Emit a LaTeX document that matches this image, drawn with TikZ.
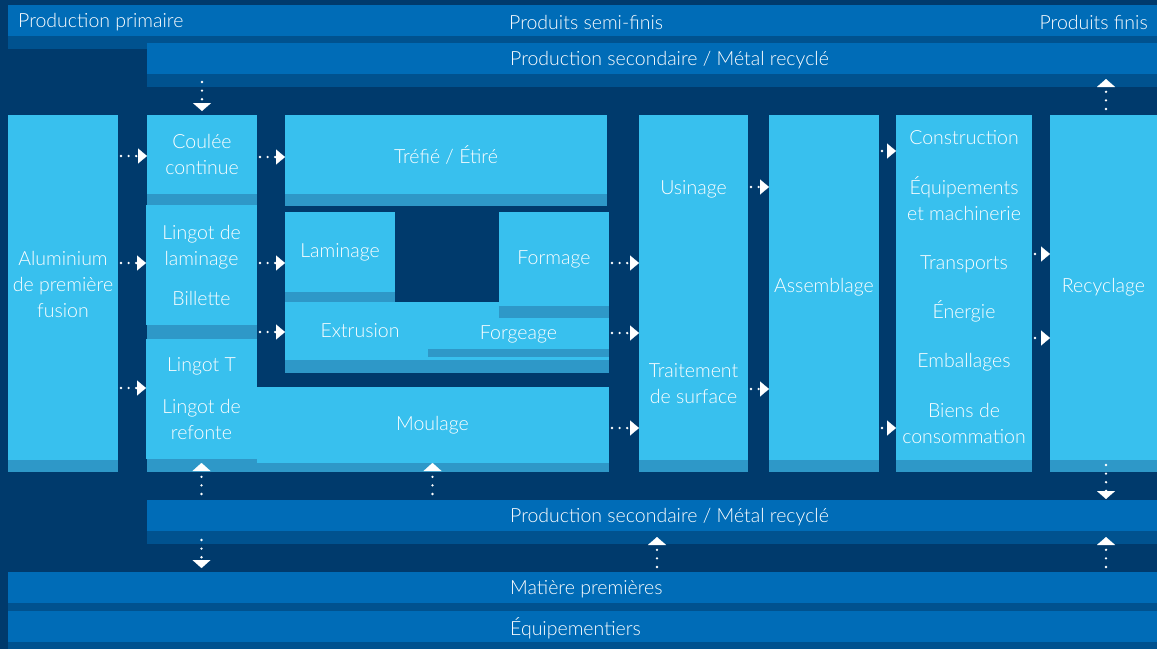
\documentclass[tikz,border=0pt]{standalone}
\usepackage{fontspec}
\setmainfont{Lato}[UprightFont={* Light}]
\usetikzlibrary{arrows.meta}
\definecolor{navy}{HTML}{003A6C}
\definecolor{barblue}{HTML}{006CB7}
\definecolor{barshade}{HTML}{00528F}
\definecolor{boxlight}{HTML}{38C0EE}
\definecolor{boxshade}{HTML}{2E98C8}
\tikzset{
  txt/.style={text=white, font=\fontsize{19.5}{26}\selectfont, inner sep=0pt, align=center},
  bartxt/.style={txt, yshift=-2pt},
  box/.style={txt, fill=boxlight, anchor=north west, outer sep=0pt},
  bar/.style={fill=barblue, anchor=north west, inner sep=0pt, outer sep=0pt, minimum height=31pt},
  flow/.style={draw=white, line width=2.6pt, line cap=round, dash pattern=on 0pt off 7.6pt,
    shorten <=3pt, -{Triangle[length=9pt,width=15pt,line width=0.1pt]}},
  flowv/.style={flow, dash pattern=on 0pt off 8.6pt, -{Triangle[length=8pt,width=18pt,line width=0.1pt]}},
}
\begin{document}
\begin{tikzpicture}[x=1pt,y=-1pt]
    \fill[navy] (0,0) rectangle (1157,649);
    % bars on top
    \fill[barshade] (8,36) rectangle (1157,49);
    \node[bar, minimum width=1149pt] (prim) at (8,5) {};
    \node[bartxt, anchor=west] (primtxt) at ([xshift=10pt]prim.west) {Production primaire};
    \node[bartxt, anchor=west] (semi) at (prim.west -| 509,0) {Produits semi-finis};
    \node[bartxt, anchor=east] (finis) at ([xshift=-9pt]prim.east) {Produits finis};
    \fill[barshade] (147,74) rectangle (1157,87);
    \node[bar, minimum width=1010pt] (secA) at (147,43) {};
    \node[bartxt, anchor=west] (secAtxt) at (secA.west -| 510,0) {Production secondaire / Métal recyclé};
    % bars at the bottom
    \fill[barshade] (147,531) rectangle (1157,544);
    \node[bar, minimum width=1010pt] (secB) at (147,500) {};
    \node[bartxt, anchor=west] (secBtxt) at (secB.west -| 510,0) {Production secondaire / Métal recyclé};
    \fill[barshade] (8,603) rectangle (1157,611);
    \node[bar, minimum width=1149pt] (mat) at (8,572) {};
    \node[bartxt, anchor=west] (mattxt) at (mat.west -| 510,0) {Matière premières};
    \fill[barshade] (8,642) rectangle (1157,649);
    \node[bar, minimum width=1149pt] (equip) at (8,611) {};
    \node[bartxt, anchor=west] (equiptxt) at (equip.west -| 510,0) {Équipementiers};
    % first column
    \node[box, minimum width=110pt, minimum height=345pt] (alu) at (8,115) {};
    \fill[boxshade] (alu.south west) rectangle ++(110,12);
    \node[txt] (alutxt) at ([yshift=3pt]alu.center) {Aluminium\\de première\\fusion};
    % second column
    \node[box, minimum width=110pt, minimum height=79pt] (coulee) at (147,115) {Coulée\\continue};
    \fill[boxshade] (coulee.south west) rectangle ++(110,11);
    \node[box, minimum width=111pt, minimum height=120pt] (linglam) at (146,205) {Lingot de\\laminage\\[14pt]Billette};
    \fill[boxshade] ([xshift=1pt]linglam.south west) rectangle ++(110,14);
    \node[box, minimum width=353pt, minimum height=76pt] (moul) at (256,387) {Moulage};
    \fill[boxshade] (moul.south west) rectangle ++(353,9);
    \node[box, minimum width=111pt, minimum height=120pt] (lingT) at (146,339) {Lingot T\\[16pt]Lingot de\\refonte};
    \fill[boxshade] ([xshift=1pt]lingT.south west) rectangle ++(110,13);
    % third column
    \node[box, minimum width=322pt, minimum height=79pt] (trefile) at (285,115) {Tréfié / Étiré};
    \fill[boxshade] (trefile.south west) rectangle ++(322,12);
    \node[box, minimum width=324pt, minimum height=58pt] (extr) at (285,302) {};
    \fill[boxshade] (extr.south west) rectangle ++(324,13);
    \node[txt] (extrtxt) at ([xshift=75pt]extr.west) {Extrusion};
    \node[box, minimum width=110pt, minimum height=80pt] (lamin) at (285,212) {Laminage};
    \fill[boxshade] (lamin.south west) rectangle ++(110,10);
    \node[box, minimum width=110pt, minimum height=94pt] (form) at (499,212) {Formage};
    \fill[boxshade] (form.south west) rectangle ++(110,12);
    \node[box, minimum width=181pt, minimum height=30pt] (forge) at (428,319) {Forgeage};
    \fill[boxshade] (forge.south west) rectangle ++(181,8);
    % right columns
    \node[box, minimum width=109pt, minimum height=345pt] (usin) at (639,115) {};
    \fill[boxshade] (usin.south west) rectangle ++(109,12);
    \node[txt] (usintxt) at ([yshift=-5pt]usin.center) {Usinage\\[157pt]Traitement\\de surface};
    \node[box, minimum width=110pt, minimum height=345pt] (assem) at (769,115) {Assemblage};
    \fill[boxshade] (assem.south west) rectangle ++(110,12);
    \node[box, minimum width=136pt, minimum height=345pt] (constr) at (896,115) {Construction\\[24pt]Équipements\\et machinerie\\[23pt]Transports\\[23pt]Énergie\\[23pt]Emballages\\[24pt]Biens de\\consommation};
    \fill[boxshade] (constr.south west) rectangle ++(136,12);
    \node[box, minimum width=107pt, minimum height=345pt] (recyc) at (1050,115) {Recyclage};
    \fill[boxshade] (recyc.south west) rectangle ++(107,12);
    % flows left to right
    \foreach \a/\b/\y in {alu/coulee/156, alu/linglam/263, alu/lingT/388, coulee/trefile/157,
        linglam/lamin/263, linglam/extr/332, form/usin/263, forge/usin/333, moul/usin/428,
        usin/assem/187, usin/assem/389, assem/constr/151, assem/constr/428,
        constr/recyc/254, constr/recyc/338} {
        \draw[flow] (\a.east |- 0,\y) -- (\b.west |- 0,\y);
    }
    % flows up and down
    \draw[flowv] ([yshift=-5pt]secA.south -| coulee) -- ([yshift=4pt]coulee.north);
    \draw[flowv] ([yshift=3pt]recyc.north -| 1106,0) -- ([yshift=-5pt]secA.south -| 1106,0);
    \draw[flowv] ([yshift=3pt]secB.north -| lingT) -- ([yshift=-4pt]lingT.south);
    \draw[flowv] ([yshift=3pt]secB.north -| moul) -- (moul.south);
    \draw[flowv] ([yshift=-2pt]recyc.south -| 1106,0) -- ([yshift=1pt]secB.north -| 1106,0);
    \draw[flowv] ([yshift=-6pt]secB.south -| lingT) -- ([yshift=4pt]mat.north -| lingT);
    \draw[flowv] ([yshift=2pt]mat.north -| 657,0) -- ([yshift=-6pt]secB.south -| 657,0);
    \draw[flowv] ([yshift=2pt]mat.north -| 1106,0) -- ([yshift=-6pt]secB.south -| 1106,0);
\end{tikzpicture}
\end{document}
